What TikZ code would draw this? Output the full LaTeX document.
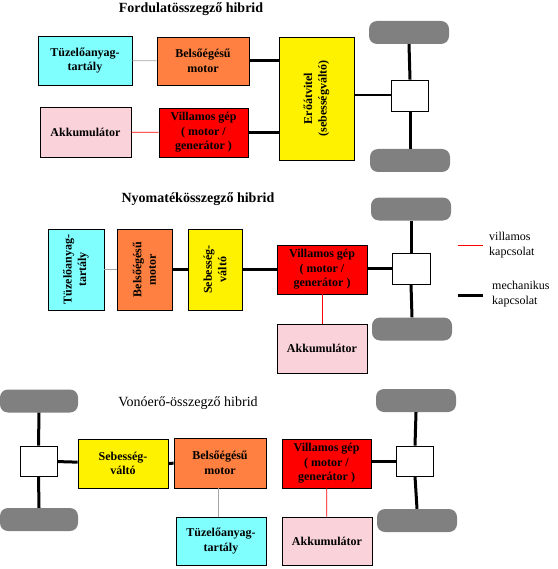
\documentclass[tikz,border=0pt]{standalone}
\usepackage{fontspec}
\setmainfont{Liberation Serif}
\usetikzlibrary{positioning}
\definecolor{Tank}{RGB}{128,255,255}
\definecolor{Engine}{RGB}{255,128,64}
\definecolor{Battery}{RGB}{250,211,218}
\definecolor{Wheel}{RGB}{128,128,128}
\definecolor{Pipe}{RGB}{165,165,165}

\begin{document}
\begin{tikzpicture}[x=1pt,y=-1pt,
  unit/.style={draw,line width=.9pt,inner sep=1pt,align=center,font=\bfseries\fontsize{12}{14.5}\selectfont},
  upright/.style={unit,rotate=90},
  wheel/.style={fill=Wheel,rounded corners=8pt,minimum width=80pt,minimum height=23pt,inner sep=0pt},
  hub/.style={draw,fill=white,line width=.9pt,minimum width=37pt,minimum height=31pt,inner sep=0pt},
  mech/.style={line width=3pt},
  elec/.style={red,line width=.8pt},
  fuel/.style={Pipe,line width=.8pt},
  title/.style={font=\bfseries\fontsize{14}{16}\selectfont},
  legend/.style={align=left,anchor=west,inner sep=0pt,font=\fontsize{12}{15}\selectfont}]
\useasboundingbox (0,0) rectangle (557,569);

% Fordulatosszegzo hibrid
\node[title] (t1) at (191,9) {Fordulatösszegző hibrid};
\node[unit,fill=Tank,minimum width=94pt,minimum height=49pt] (tank1) at (85,60.5) {Tüzelőanyag-\\tartály};
\node[unit,fill=Engine,minimum width=92pt,minimum height=48pt] (ice1) at (203,61) {Belsőégésű\\motor};
\node[unit,fill=Battery,minimum width=91pt,minimum height=50pt] (batt1) at (85.5,132) {Akkumulátor};
\node[unit,fill=red,minimum width=89pt,minimum height=49pt] (em1) at (203.5,132.5) {Villamos gép\\( motor /\\generátor )};
\node[upright,fill=yellow,minimum width=123pt,minimum height=75pt] (gear1) at (316.5,98.5) {Erőátvitel\\(sebességváltó)};
\node[wheel] (w1t) at (409,32.5) {};
\node[wheel] (w1b) at (410,160.5) {};
\node[hub] (hub1) at (410,95.5) {};
\draw[fuel] (tank1) -- (ice1);
\draw[elec] (batt1) -- (em1);
\draw[mech] (ice1.east) -- (ice1.east -| gear1.north);
\draw[mech] (em1.east) -- (em1.east -| gear1.north);
\draw[line width=2pt] (hub1.west -| gear1.south) -- (hub1.west);
\draw[mech] (hub1.north) -- (w1t.south);
\draw[mech] (hub1.south) -- (w1b.north);

% Nyomatekosszegzo hibrid
\node[title] (t2) at (198,199) {Nyomatékösszegző hibrid};
\node[upright,fill=Tank,minimum width=81pt,minimum height=56pt] (tank2) at (76,269.5) {Tüzelőanyag-\\tartály};
\node[upright,fill=Engine,minimum width=81pt,minimum height=55pt] (ice2) at (144.5,269.5) {Belsőégésű\\motor};
\node[upright,fill=yellow,minimum width=81pt,minimum height=54pt] (gear2) at (215,269.5) {Sebesség-\\váltó};
\node[unit,fill=red,minimum width=90pt,minimum height=49pt] (em2) at (322,269.5) {Villamos gép\\( motor /\\generátor )};
\node[unit,fill=Battery,minimum width=90pt,minimum height=49pt] (batt2) at (322,348.5) {Akkumulátor};
\node[wheel] (w2t) at (411,209) {};
\node[wheel] (w2b) at (412,329) {};
\node[hub,minimum width=38pt] (hub2) at (411,268.5) {};
\draw[fuel] (tank2) -- (ice2);
\draw[mech] (ice2) -- (gear2);
\draw[mech] (gear2) -- (em2);
\draw[elec] (em2) -- (batt2);
\draw[mech] (em2.east |- hub2.west) -- (hub2.west);
\draw[mech] (hub2.north) -- (w2t.south);
\draw[mech] (hub2.south) -- (w2b.north);
% jelmagyarazat
\coordinate (le1) at (458,245);
\coordinate (le2) at (483,245);
\coordinate (lm1) at (458,295);
\coordinate (lm2) at (483,295);
\draw[elec] (le1) -- (le2);
\draw[mech] (lm1) -- (lm2);
\node[legend] (lt1) at (489,245.5) {villamos\\kapcsolat};
\node[legend] (lt2) at (492,294.5) {mechanikus\\kapcsolat};

% Vonoero-osszegzo hibrid
\node[title,font=\fontsize{14}{16}\selectfont] (t3) at (188,403) {Vonóerő-összegző hibrid};
\node[wheel,minimum width=78pt] (w3lt) at (39,401) {};
\node[wheel,minimum width=78pt] (w3lb) at (39,519.5) {};
\node[hub,minimum height=30pt] (hub3l) at (38.5,461) {};
\node[unit,fill=yellow,minimum width=90pt,minimum height=49pt] (gear3) at (123,463.5) {Sebesség-\\váltó};
\node[unit,fill=Engine,minimum width=92pt,minimum height=50pt] (ice3) at (220,463) {Belsőégésű\\motor};
\node[unit,fill=Tank,minimum width=90pt,minimum height=48pt] (tank3) at (221,541) {Tüzelőanyag-\\tartály};
\node[unit,fill=red,minimum width=89pt,minimum height=49pt] (em3) at (326.5,463.5) {Villamos gép\\( motor /\\generátor )};
\node[unit,fill=Battery,minimum width=90pt,minimum height=48pt] (batt3) at (327,541) {Akkumulátor};
\node[wheel] (w3rt) at (416,400.5) {};
\node[wheel] (w3rb) at (417,520.5) {};
\node[hub,minimum height=30pt] (hub3r) at (415,461) {};
\draw[mech] (hub3l.north) -- (w3lt.south);
\draw[mech] (hub3l.south) -- (w3lb.north);
\draw[mech] (hub3l) -- (gear3);
\draw[mech] (gear3) -- (ice3);
\draw[fuel] (ice3.south -| 218,0) -- (tank3.north -| 218,0);
\draw[elec] (em3) -- (batt3);
\draw[mech] (em3.east |- hub3r.west) -- (hub3r.west);
\draw[mech] (hub3r.north) -- (w3rt.south);
\draw[mech] (hub3r.south) -- (w3rb.north);
\end{tikzpicture}
\end{document}
